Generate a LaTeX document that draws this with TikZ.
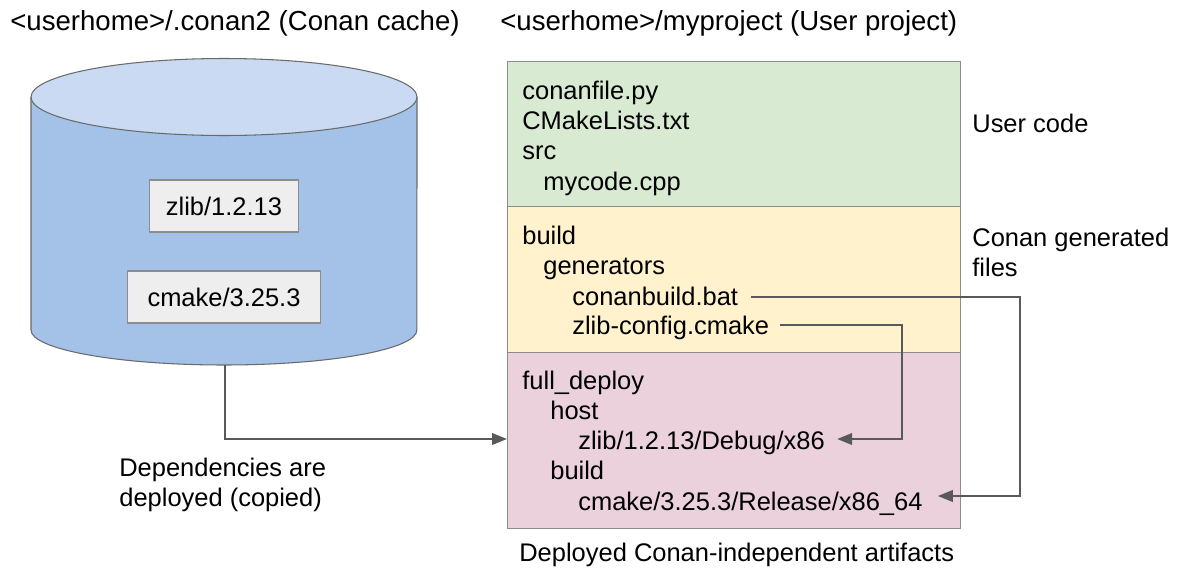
\documentclass[tikz,border=0pt]{standalone}
\usepackage{fontspec}
\setmainfont{Liberation Sans}
\usetikzlibrary{arrows.meta}
\definecolor{cylbody}{HTML}{A4C2E8}
\definecolor{cyltop}{HTML}{C9DAF2}
\definecolor{pkgfill}{HTML}{EEEEEE}
\definecolor{usercol}{HTML}{D9EAD3}
\definecolor{gencol}{HTML}{FFF2CC}
\definecolor{depcol}{HTML}{EAD1DC}
\definecolor{edgegray}{HTML}{8C8C8C}
\definecolor{cylgray}{HTML}{6A6A6A}
\definecolor{arrowgray}{HTML}{595959}
\newcommand{\fs}{\fontsize{14.5}{17.07}\selectfont}
\newcommand{\ts}{\fontsize{15.7}{18}\selectfont}
\tikzset{
  lbl/.style={anchor=base west, inner sep=0pt, font=\fs},
  band/.style={draw=edgegray, line width=0.6pt, anchor=north west, minimum width=9.06cm, inner sep=0pt},
  pkg/.style={draw=edgegray, fill=pkgfill, line width=0.6pt, minimum height=1.04cm, inner sep=0pt, font=\fs},
  deparrow/.style={draw=arrowgray, line width=1.3pt, -{Triangle[length=0.3cm,width=0.23cm]}}
}
\begin{document}
\begin{tikzpicture}[x=0.02cm,y=-0.02cm]
\useasboundingbox (0,0) rectangle (1181,569);

% titles
\draw (10,30) node[lbl, font=\ts](cachetitle){<userhome>/.conan2 (Conan cache)}
      (500,30) node[lbl, font=\ts](projtitle){<userhome>/myproject (User project)};

% the cache cylinder
\fill[cylbody] (31,97) -- (31,330) arc[start angle=180,end angle=360,x radius=3.86cm,y radius=0.7cm] -- (417,97) -- cycle;
\draw[cylgray, line width=0.6pt] (31,97) -- (31,330) arc[start angle=180,end angle=360,x radius=3.86cm,y radius=0.7cm] -- (417,97);
\draw[cylgray, line width=0.6pt, fill=cyltop] (224,97) ellipse [x radius=3.86cm, y radius=0.77cm];
\coordinate (cache) at (225,365);

\draw (224,206) node[pkg, minimum width=2.98cm](zlibpkg){zlib/1.2.13}
      (224,297) node[pkg, minimum width=3.86cm](cmakepkg){cmake/3.25.3};

% project folder bands
\draw (507,61) node[band, fill=usercol, minimum height=2.9cm](user){}
      (507,206) node[band, fill=gencol, minimum height=2.92cm](gen){}
      (507,352) node[band, fill=depcol, minimum height=3.52cm](deploy){};

% user code
\draw (522,99) node[lbl](conanfile){conanfile.py}
      (522,129) node[lbl](cmakelists){CMakeLists.txt}
      (522,159) node[lbl](src){src}
      (543,190) node[lbl](mycode){mycode.cpp};

% generated files
\draw (522,244) node[lbl](build){build}
      (543,274) node[lbl](generators){generators}
      (572,305) node[lbl](bat){conanbuild.bat}
      (572,334) node[lbl](zlibcfg){zlib-config.cmake};

% deployed artifacts
\draw (522,389) node[lbl](fulldeploy){full\_deploy}
      (550,419) node[lbl](host){host}
      (578,449) node[lbl](zlibdep){zlib/1.2.13/Debug/x86}
      (550,479) node[lbl](depbuild){build}
      (578,510) node[lbl](cmakedep){cmake/3.25.3/Release/x86\_64};

% side notes (base is the last line)
\draw (972,132) node[lbl](usernote){User code}
      (972,276) node[lbl, align=left](gennote){Conan generated\\files}
      (119,506) node[lbl, align=left](copynote){Dependencies are\\deployed (copied)}
      (519,561) node[lbl](depnote){Deployed Conan-independent artifacts};

% connectors
\coordinate (batcol) at (1020,0);
\coordinate (cfgcol) at (902,0);
\coordinate (batrow) at (0,297);
\coordinate (cfgrow) at (0,325);
\coordinate (zlibrow) at (0,439);
\coordinate (cmakerow) at (0,496);
\draw[deparrow] (cache) |- (zlibrow -| deploy.west);
\draw[deparrow] ([xshift=0.26cm]bat.east |- batrow) -- (batcol |- batrow) -- (batcol |- cmakerow) -- ([xshift=0.3cm]cmakedep.east |- cmakerow);
\draw[deparrow] ([xshift=0.2cm]zlibcfg.east |- cfgrow) -- (cfgcol |- cfgrow) -- (cfgcol |- zlibrow) -- ([xshift=0.24cm]zlibdep.east |- zlibrow);
\end{tikzpicture}
\end{document}
